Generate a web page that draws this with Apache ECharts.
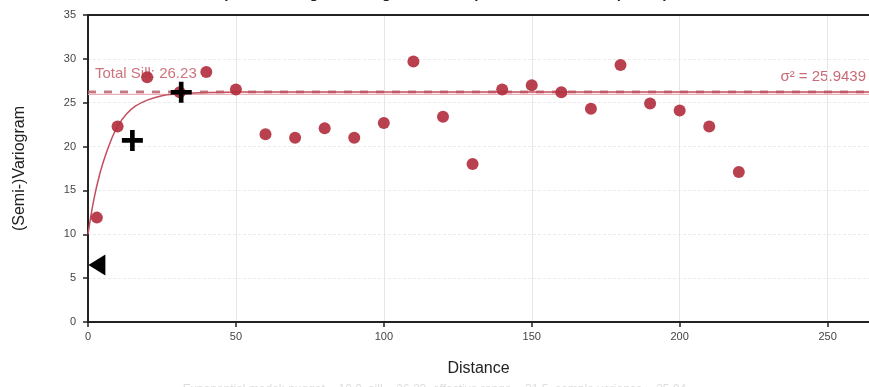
<!DOCTYPE html>
<html>
<head>
<meta charset="utf-8">
<script src="https://cdn.jsdelivr.net/npm/echarts@6/dist/echarts.min.js"></script>
<style>
  html, body { margin: 0; padding: 0; background: #fff; }
  #chart { width: 869px; height: 387px; }
</style>
</head>
<body>
<div id="chart"></div>
<script>
// empirical variogram (lag distance, semivariance)
const lagDistance = [3, 10, 20, 31, 40, 50, 60, 70, 80, 90, 100, 110, 120, 130, 140, 150, 160, 170, 180, 190, 200, 210, 220];
const semivariance = [11.9, 22.3, 27.9, 26.2, 28.5, 26.5, 21.4, 21.0, 22.1, 21.0, 22.7, 29.7, 23.4, 18.0, 26.5, 27.0, 26.2, 24.3, 29.3, 24.9, 24.1, 22.3, 17.1];

// fitted model curve
const modelDistance = [0, 2, 4, 6, 8, 10, 13, 16, 20, 25, 30, 35, 40, 50, 60, 80, 120, 180, 264];
const modelValue = [10.0, 14.0, 16.9, 19.1, 20.9, 22.3, 23.7, 24.6, 25.3, 25.8, 26.0, 26.1, 26.17, 26.21, 26.23, 26.23, 26.23, 26.23, 26.23];

// markers
const plusMarks = [[31.5, 26.2], [15, 20.7]];
const nuggetMark = [[3, 6.5]];

const totalSill = 26.23;
const sigma2 = 25.9439;

const xMax = 264;

const chart = echarts.init(document.getElementById('chart'));

const font = 'Liberation Sans, Arial, sans-serif';

chart.setOption({
  animation: false,
  textStyle: { fontFamily: font },
  title: {
    text: 'Empirical Variogram of log_Zn with Exponential Model Fit (n = 23)',
    left: 'center',
    top: -19,
    textStyle: { fontSize: 15, fontWeight: 'bold', color: '#222', fontFamily: font }
  },
  grid: {
    left: 88,
    top: 15,
    right: 0,
    height: 307
  },
  xAxis: {
    type: 'value',
    min: 0,
    max: xMax,
    interval: 50,
    name: 'Distance',
    nameLocation: 'middle',
    nameGap: 39,
    nameTextStyle: { fontSize: 16, color: '#222' },
    axisLine: { show: true, lineStyle: { color: '#222', width: 2 } },
    axisTick: { show: true, length: 5, lineStyle: { color: '#222', width: 1.5 } },
    axisLabel: { fontSize: 11, color: '#444', showMaxLabel: false, margin: 9 },
    splitLine: { show: true, lineStyle: { color: '#e6e6e6', width: 1 } }
  },
  yAxis: {
    type: 'value',
    min: 0,
    max: 35,
    interval: 5,
    name: '(Semi-)Variogram',
    nameLocation: 'middle',
    nameGap: 60,
    nameTextStyle: { fontSize: 16, color: '#222' },
    axisLine: { show: true, onZero: false, lineStyle: { color: '#222', width: 2 } },
    axisTick: { show: true, length: 5, lineStyle: { color: '#222', width: 1.5 } },
    axisLabel: { fontSize: 11, color: '#444', margin: 12 },
    splitLine: { show: true, lineStyle: { color: '#ececec', width: 1, type: [3, 2] } }
  },
  series: [
    {
      // top frame line
      type: 'line',
      data: [[0, 35], [xMax, 35]],
      symbol: 'none',
      silent: true,
      lineStyle: { color: '#222', width: 2 },
      z: 1
    },
    {
      type: 'line',
      name: 'sigma2',
      data: [[0, sigma2], [xMax, sigma2]],
      symbol: 'none',
      lineStyle: { color: '#eab0b6', width: 1.2 },
      z: 2
    },
    {
      type: 'line',
      name: 'sill',
      data: [[0, totalSill], [xMax, totalSill]],
      symbol: 'none',
      lineStyle: { color: '#b8606c', width: 2.8, type: [8, 8], opacity: 0.85 },
      z: 3
    },
    {
      type: 'line',
      name: 'model',
      data: modelDistance.map((d, i) => [d, modelValue[i]]),
      smooth: 0.4,
      symbol: 'none',
      lineStyle: { color: '#c24f5c', width: 1.5 },
      z: 4
    },
    {
      type: 'scatter',
      name: 'empirical',
      data: lagDistance.map((d, i) => [d, semivariance[i]]),
      symbolSize: 12,
      itemStyle: { color: '#b3303f', opacity: 0.92 },
      z: 5
    },
    {
      type: 'scatter',
      name: 'plus',
      data: plusMarks,
      symbol: 'path://M3.9,0H6.1V3.9H10V6.1H6.1V10H3.9V6.1H0V3.9H3.9Z',
      symbolSize: 21,
      itemStyle: { color: '#000', opacity: 1 },
      z: 6
    },
    {
      type: 'scatter',
      name: 'nugget',
      data: nuggetMark,
      symbol: 'path://M0,5L8,0L8,10Z',
      symbolSize: [17, 21],
      itemStyle: { color: '#000', opacity: 1 },
      z: 6
    }
  ],
  graphic: [
    {
      type: 'text',
      left: 95,
      top: 66,
      z: 0,
      style: { text: 'Total Sill: 26.23', font: '15px ' + font, fill: '#c0505c', opacity: 0.8 }
    },
    {
      type: 'text',
      right: 3,
      top: 69,
      z: 0,
      style: { text: 'σ² = 25.9439', font: '15px ' + font, fill: '#c0505c', opacity: 0.85 }
    },
    {
      type: 'text',
      left: 'center',
      top: 384,
      style: { text: 'Exponential model: nugget = 10.0, sill = 26.23, effective range = 31.5, sample variance = 25.94', font: '12px ' + font, fill: '#ddd' }
    }
  ]
});
</script>
</body>
</html>
